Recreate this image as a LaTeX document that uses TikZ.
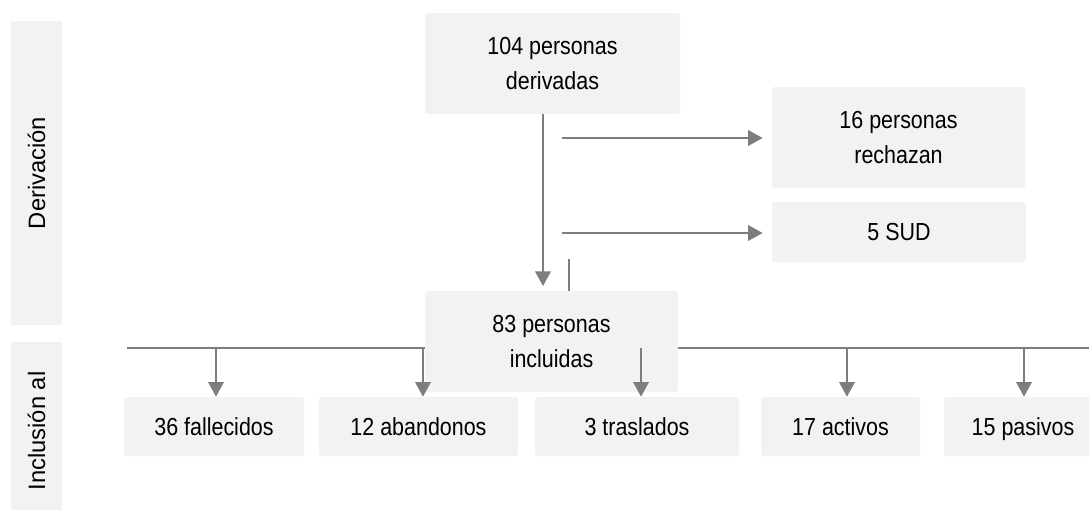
\documentclass[tikz,border=0pt]{standalone}
\usepackage{fontspec}
\setmainfont{Liberation Sans}
\newfontfamily\estrecha[FakeStretch=0.87]{Liberation Sans}
\usepackage{tikz}
\usetikzlibrary{calc,arrows.meta}
\definecolor{cajagris}{RGB}{242,242,242}
\definecolor{lineagris}{RGB}{125,125,125}

\begin{document}
\begin{tikzpicture}[x=0.75pt,y=-0.75pt,line cap=butt]
	\tikzstyle{caja}=[fill=cajagris,rounded corners=2pt,inner sep=0pt,align=center,font=\estrecha\fontsize{18.5}{26}\selectfont];
	\tikzstyle{fila}=[caja,minimum height=44.25pt,text height=17pt,text depth=3.8pt];
	\tikzstyle{fase}=[fill=cajagris,inner sep=0pt,minimum width=38.25pt];
	\tikzstyle{flecha}=[draw=lineagris,line width=1.8pt,-{Triangle[width=11.5pt,length=11pt]}];
	\tikzstyle{linea}=[draw=lineagris,line width=1.3pt];
	\useasboundingbox (0,0) rectangle (1089,511);

	% fases
	\node[fase,minimum height=228pt] (fderiv) at (36.5,173) {};
	\node[rotate=90,font=\fontsize{17.8}{20}\selectfont] at (fderiv) {Derivación};
	\node[fase,minimum height=126pt] (fincl) at (36.5,426) {};
	\node[rotate=90,font=\fontsize{17.8}{20}\selectfont] at ($(fincl)+(0,5)$) {Inclusión al};

	% cajas
	\node[caja,minimum width=191.25pt,minimum height=75.75pt] (deriv) at (552.5,63.5) {104 personas\\derivadas};
	\node[caja,minimum width=189.75pt,minimum height=75.75pt] (rech) at (898.5,137.5) {16 personas\\rechazan};
	\node[caja,minimum width=190.5pt,minimum height=45pt] (sud) at (899,232) {5 SUD};
	\node[caja,minimum width=189.75pt,minimum height=75.75pt] (incl) at (551.5,341.5) {83 personas\\incluidas};
	\node[fila,minimum width=135pt] (fall) at (214,426.5) {36 fallecidos};
	\node[fila,minimum width=149.25pt] (aband) at (418.5,426.5) {12 abandonos};
	\node[fila,minimum width=153pt] (trasl) at (637,426.5) {3 traslados};
	\node[fila,minimum width=119.25pt] (activ) at (840.5,426.5) {17 activos};
	\node[fila,minimum width=118.5pt] (pasiv) at (1023,426.5) {15 pasivos};

	% derivacion
	\coordinate (m1) at (543,114);
	\coordinate (c1) at (569,259);
	\coordinate (r1) at (562,138);
	\coordinate (s1) at (562,233);
	\draw[flecha,shorten >=3.5pt] (m1) -- (m1 |- incl.north);
	\draw[linea,line width=1pt] (c1) -- (c1 |- incl.north);
	\draw[flecha,shorten >=6.75pt] (r1) -- (r1 -| rech.west);
	\draw[flecha,shorten >=6.75pt] (s1) -- (s1 -| sud.west);

	% inclusion
	\coordinate (ri) at (127,348);
	\coordinate (rd) at (1089,348);
	\draw[linea] (ri) -- (ri -| incl.west);
	\draw[linea] (incl.east |- rd) -- (rd);
	\foreach \c/\x in {fall/216,aband/423,trasl/641,activ/847,pasiv/1024}{
		\coordinate (t) at (\x,348);
		\draw[flecha] (t) -- (t |- \c.north);
	}
\end{tikzpicture}
\end{document}
